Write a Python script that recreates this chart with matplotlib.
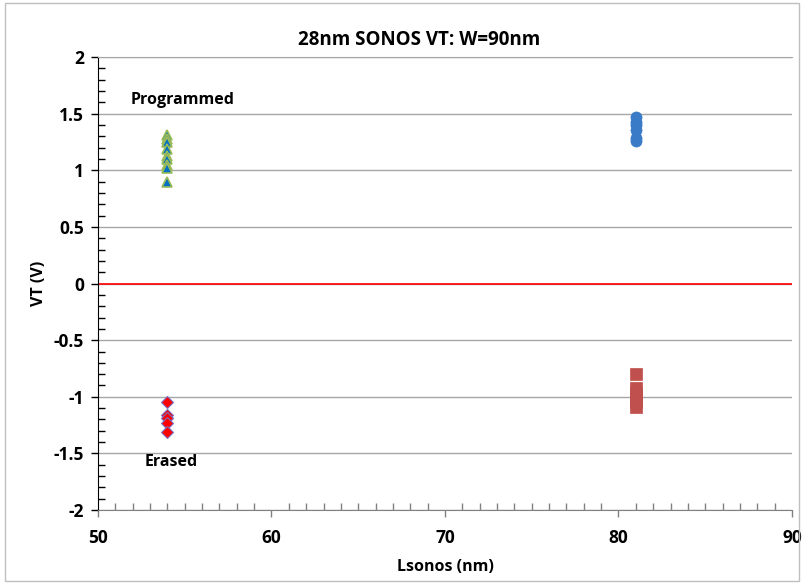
import matplotlib
matplotlib.use("Agg")
import matplotlib.pyplot as plt
from matplotlib.patches import Rectangle
from matplotlib.ticker import MultipleLocator

# data
x_54 = 54
x_81 = 81
programmed_54 = [1.31, 1.28, 1.25, 1.19, 1.13, 1.10, 1.05, 1.02, 0.90]
erased_54 = [-1.05, -1.16, -1.19, -1.23, -1.31]
programmed_81 = [1.47, 1.43, 1.40, 1.36, 1.29, 1.26]
erased_81 = [-0.80, -0.92, -0.97, -1.01, -1.05, -1.09]

plt.rcParams['font.family'] = ['Open Sans', 'DejaVu Sans']
plt.rcParams['font.weight'] = 'bold'

fig = plt.figure(figsize=(8.04, 5.83), dpi=100)
ax = fig.add_axes([0.1219, 0.1252, 0.985 - 0.1219, 0.902 - 0.1252])

# outer chart border
fig.patches.append(Rectangle((0.006, 0.004), 0.988, 0.99, transform=fig.transFigure,
                             fill=False, edgecolor='#bfbfbf', linewidth=1))

ax.set_xlim(50, 90)
ax.set_ylim(-2, 2)
ax.yaxis.set_major_locator(MultipleLocator(0.5))
ax.yaxis.set_minor_locator(MultipleLocator(0.1))
ax.xaxis.set_major_locator(MultipleLocator(10))
ax.xaxis.set_minor_locator(MultipleLocator(1))

ax.grid(axis='y', which='major', color='#a6a6a6', linewidth=1)
ax.set_axisbelow(True)
ax.axhline(0, color='red', linewidth=1.2, zorder=2)

ax.plot([x_54] * len(programmed_54), programmed_54, linestyle='none', marker='^',
        markersize=7.5, markerfacecolor='#0070C0', markeredgecolor='#9BBB59',
        markeredgewidth=1.2, zorder=3)
ax.plot([x_54] * len(erased_54), erased_54, linestyle='none', marker='D',
        markersize=6.5, markerfacecolor='#FF0000', markeredgecolor='#7A6FC0',
        markeredgewidth=0.8, zorder=3)
ax.plot([x_81] * len(programmed_81), programmed_81, linestyle='none', marker='o',
        markersize=8, markerfacecolor='#3A7BC8', markeredgecolor='#3A7BC8',
        markeredgewidth=0.5, zorder=3)
ax.plot([x_81] * len(erased_81), erased_81, linestyle='none', marker='s',
        markersize=9, markerfacecolor='#C0504D', markeredgecolor='#C0504D',
        markeredgewidth=0.5, zorder=3)

ax.text(54.9, 1.62, 'Programmed', ha='center', va='center', fontsize=11.5, fontweight='bold')
ax.text(54.2, -1.58, 'Erased', ha='center', va='center', fontsize=11.5, fontweight='bold')

# chart title is centred on the chart area, not the plot area
fig.text(0.521, 0.931, '28nm SONOS VT: W=90nm', ha='center', va='center',
         fontsize=13.5, fontweight='bold')
ax.set_xlabel('Lsonos (nm)', fontsize=11.5, fontweight='bold', labelpad=8)
ax.set_ylabel('VT (V)', fontsize=11.5, fontweight='bold', labelpad=5)

ax.spines['right'].set_visible(False)
ax.spines['top'].set_color('#a6a6a6')
ax.spines['left'].set_color('black')
ax.spines['bottom'].set_color('#808080')

ax.tick_params(axis='both', which='major', direction='out', length=5, labelsize=12.5,
               width=1, pad=5)
ax.tick_params(axis='x', which='major', pad=9)
ax.tick_params(axis='both', which='minor', direction='in', length=5, width=1)
ax.tick_params(axis='x', which='both', color='#808080')
ax.tick_params(axis='y', which='both', color='black')

ax.set_yticks([2, 1.5, 1, 0.5, 0, -0.5, -1, -1.5, -2])
ax.set_yticklabels(['2', '1.5', '1', '0.5', '0', '-0.5', '-1', '-1.5', '-2'])
for lab in ax.get_xticklabels() + ax.get_yticklabels():
    lab.set_fontweight('bold')

fig.savefig('out.png', dpi=100)
